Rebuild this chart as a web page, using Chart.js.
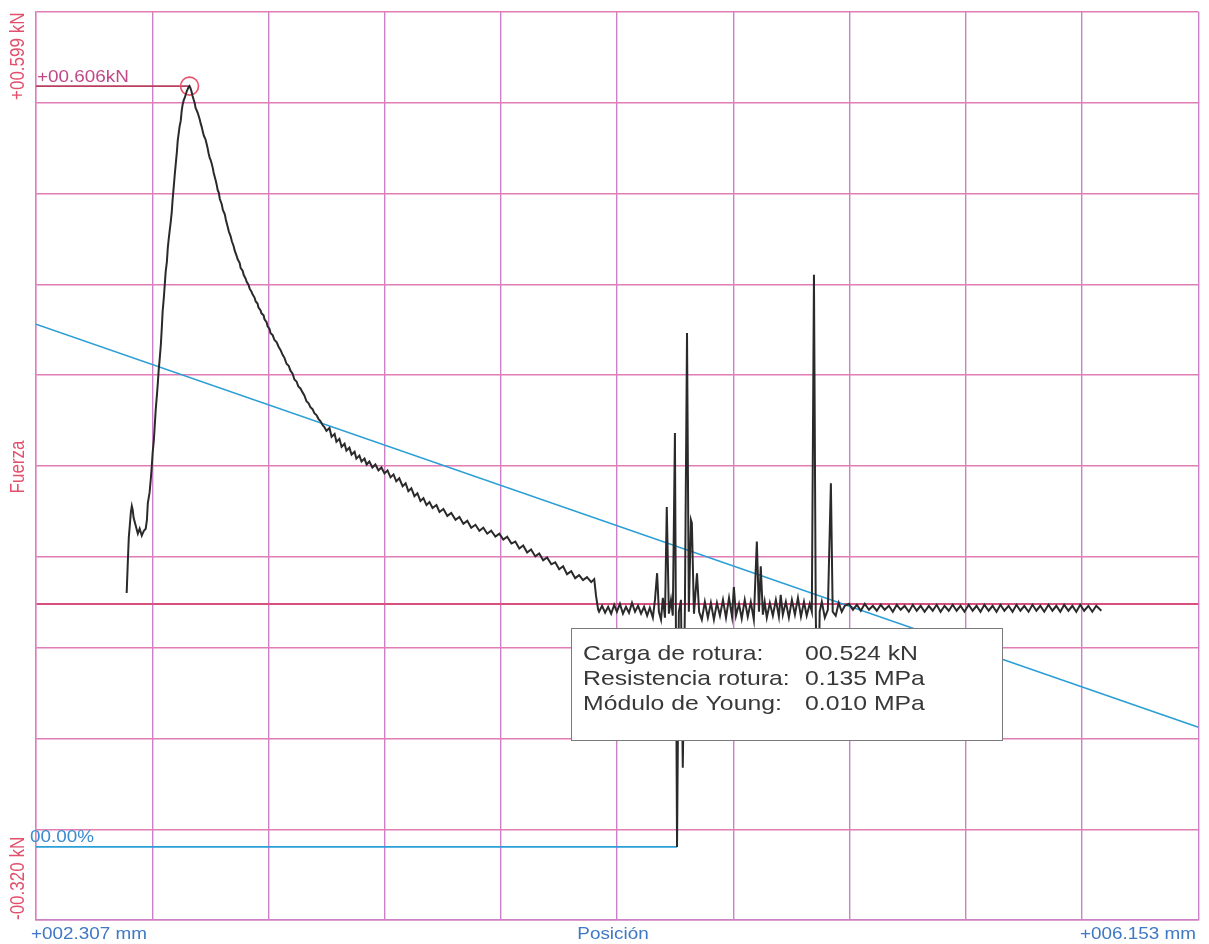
<!DOCTYPE html>
<html>
<head>
<meta charset="utf-8">
<script src="https://cdn.jsdelivr.net/npm/chart.js@4/dist/chart.umd.min.js"></script>
<style>
  html, body { margin: 0; padding: 0; background: #fff; }
  #wrap { width: 1209px; height: 944px; position: relative; }
</style>
</head>
<body>
<div id="wrap"><canvas id="ensayoChart"></canvas></div>
<script>
const posicion = [
  2.607, 2.611, 2.614, 2.617, 2.621, 2.624, 2.627, 2.630, 2.637, 2.644, 2.650, 2.657, 2.664, 2.670, 2.674, 2.677,
  2.683, 2.687, 2.690, 2.693, 2.697, 2.700, 2.703, 2.707, 2.710, 2.713, 2.716, 2.720, 2.723, 2.726, 2.730, 2.733,
  2.736, 2.740, 2.743, 2.746, 2.749, 2.753, 2.756, 2.759, 2.763, 2.766, 2.769, 2.773, 2.776, 2.779, 2.782, 2.786,
  2.789, 2.792, 2.796, 2.799, 2.802, 2.806, 2.809, 2.812, 2.815,
  2.818, 2.822, 2.825, 2.828, 2.832, 2.835, 2.838, 2.842, 2.845, 2.849, 2.852, 2.855, 2.858, 2.862, 2.865, 2.868,
  2.872, 2.875, 2.878, 2.882, 2.885, 2.888, 2.892, 2.895, 2.902, 2.905, 2.908, 2.912, 2.915, 2.922, 2.925, 2.932,
  2.935, 2.941, 2.945, 2.951, 2.955, 2.961, 2.964, 2.971, 2.974, 2.981, 2.984, 2.991, 2.994, 3.001, 3.004, 3.010,
  3.014, 3.020, 3.024, 3.030, 3.034, 3.040, 3.043, 3.050, 3.053, 3.060, 3.063, 3.070, 3.073, 3.080, 3.083, 3.090,
  3.096, 3.103, 3.110, 3.116, 3.123, 3.129, 3.136, 3.143, 3.149, 3.156, 3.162, 3.169, 3.175, 3.182, 3.189, 3.195,
  3.202, 3.209, 3.215, 3.222, 3.228, 3.235, 3.242, 3.248, 3.255, 3.261, 3.268, 3.278, 3.285, 3.295, 3.301, 3.311,
  3.318, 3.328, 3.334, 3.344, 3.351, 3.361, 3.367, 3.377, 3.384, 3.394, 3.401, 3.410, 3.420, 3.430, 3.440, 3.450,
  3.460, 3.470, 3.480, 3.490, 3.499, 3.509, 3.520, 3.530, 3.539, 3.549, 3.559, 3.569, 3.579, 3.589, 3.599, 3.609,
  3.619, 3.632, 3.642, 3.655, 3.668, 3.681, 3.695, 3.708, 3.721, 3.734, 3.747, 3.761, 3.774, 3.787, 3.800, 3.813,
  3.827, 3.840, 3.853, 3.866, 3.880, 3.893, 3.906, 3.919, 3.932, 3.945, 3.959, 3.972, 3.985, 3.998, 4.012, 4.025,
  4.038, 4.051, 4.064, 4.078, 4.091, 4.104, 4.117, 4.130, 4.144, 4.154, 4.160, 4.167,
  4.170, 4.180, 4.190, 4.200, 4.210, 4.220, 4.229, 4.239, 4.249, 4.259, 4.269, 4.279, 4.289, 4.299, 4.309, 4.319,
  4.329, 4.338, 4.348, 4.355, 4.362, 4.368, 4.375, 4.381, 4.388, 4.394, 4.401, 4.408, 4.414, 4.421, 4.424, 4.428,
  4.434, 4.441, 4.447, 4.454, 4.461, 4.467, 4.474, 4.477, 4.484, 4.494, 4.501, 4.510, 4.520, 4.530, 4.540, 4.550,
  4.560, 4.570, 4.580, 4.590, 4.600, 4.610, 4.616, 4.623, 4.633, 4.642, 4.652, 4.662, 4.672, 4.682, 4.692, 4.699,
  4.705, 4.712, 4.718, 4.725, 4.735, 4.745, 4.755, 4.765, 4.771, 4.778, 4.788, 4.798, 4.808, 4.818, 4.828, 4.838,
  4.848, 4.857, 4.867, 4.874, 4.881, 4.887, 4.894, 4.900, 4.907, 4.917, 4.927, 4.937, 4.943, 4.953, 4.963, 4.973,
  4.983, 4.997, 5.010, 5.023, 5.036, 5.049, 5.063, 5.076, 5.089, 5.102, 5.115, 5.129, 5.142, 5.155, 5.168, 5.181,
  5.195, 5.208, 5.221, 5.234, 5.247, 5.261, 5.274, 5.287, 5.300, 5.313, 5.327, 5.340, 5.353, 5.366, 5.379, 5.393,
  5.406, 5.419, 5.432, 5.445, 5.459, 5.472, 5.485, 5.498, 5.511, 5.525, 5.538, 5.551, 5.564, 5.577, 5.591, 5.604,
  5.617, 5.630, 5.643, 5.657, 5.670, 5.683, 5.696, 5.709, 5.723, 5.736, 5.749, 5.762, 5.775, 5.789, 5.802, 5.815,
  5.832
];
const fuerza = [
  0.011, 0.044, 0.067, 0.078, 0.093, 0.099, 0.095, 0.087, 0.079, 0.071, 0.076, 0.069, 0.074, 0.076, 0.085, 0.102,
  0.113, 0.127, 0.139, 0.153, 0.166, 0.181, 0.196, 0.211, 0.223, 0.237, 0.247, 0.262, 0.278, 0.296, 0.310, 0.323,
  0.336, 0.346, 0.360, 0.369, 0.377, 0.387, 0.396, 0.409, 0.423, 0.434, 0.444, 0.457, 0.469, 0.476, 0.483, 0.489,
  0.499, 0.505, 0.510, 0.512, 0.515, 0.519, 0.521, 0.523, 0.524,
  0.522, 0.518, 0.514, 0.511, 0.507, 0.502, 0.500, 0.497, 0.494, 0.490, 0.486, 0.483, 0.479, 0.474, 0.472, 0.470,
  0.465, 0.461, 0.456, 0.451, 0.449, 0.446, 0.441, 0.436, 0.428, 0.424, 0.419, 0.416, 0.410, 0.404, 0.399, 0.394,
  0.389, 0.382, 0.377, 0.372, 0.367, 0.362, 0.358, 0.352, 0.349, 0.345, 0.340, 0.337, 0.333, 0.329, 0.326, 0.323,
  0.319, 0.316, 0.313, 0.310, 0.306, 0.304, 0.300, 0.297, 0.294, 0.292, 0.288, 0.285, 0.281, 0.278, 0.274, 0.272,
  0.267, 0.265, 0.260, 0.257, 0.252, 0.249, 0.243, 0.241, 0.236, 0.233, 0.227, 0.225, 0.220, 0.218, 0.214, 0.211,
  0.205, 0.203, 0.199, 0.197, 0.193, 0.191, 0.187, 0.185, 0.181, 0.179, 0.175, 0.178, 0.169, 0.172, 0.164, 0.167,
  0.159, 0.162, 0.155, 0.158, 0.151, 0.154, 0.147, 0.150, 0.144, 0.147, 0.141, 0.144, 0.138, 0.141, 0.135, 0.138,
  0.132, 0.135, 0.128, 0.131, 0.124, 0.127, 0.119, 0.122, 0.114, 0.117, 0.109, 0.112, 0.104, 0.107, 0.100, 0.103,
  0.097, 0.100, 0.093, 0.096, 0.089, 0.092, 0.085, 0.088, 0.081, 0.084, 0.077, 0.080, 0.074, 0.077, 0.071, 0.074,
  0.068, 0.071, 0.065, 0.068, 0.061, 0.063, 0.056, 0.059, 0.052, 0.055, 0.048, 0.051, 0.044, 0.047, 0.040, 0.042,
  0.035, 0.038, 0.030, 0.033, 0.026, 0.029, 0.024, 0.027, 0.022, 0.025, 0.008, -0.006,
  -0.008, -0.002, -0.009, -0.003, -0.010, -0.001, -0.008, 0.000, -0.010, -0.003, -0.009, 0.001, -0.008, -0.002, -0.010, -0.003,
  -0.012, -0.004, -0.014, 0.004, 0.031, -0.008, -0.016, 0.006, -0.014, 0.098, -0.010, 0.004, -0.012, 0.173, -0.008, -0.246,
  -0.008, 0.004, -0.166, -0.004, 0.274, -0.008, 0.085, 0.082, -0.010, 0.031, -0.008, -0.016, 0.002, -0.014, 0.001, -0.016,
  0.001, -0.012, 0.004, -0.014, 0.006, -0.013, 0.017, -0.012, 0.000, -0.015, 0.004, -0.013, 0.002, -0.016, 0.063, -0.008,
  0.038, -0.011, 0.002, -0.014, 0.001, -0.012, 0.004, -0.013, 0.009, -0.011, 0.002, -0.014, 0.004, -0.011, 0.006, -0.013,
  0.002, -0.012, 0.000, -0.008, 0.333, -0.011, -0.131, -0.008, 0.002, -0.014, -0.006, 0.122, -0.008, -0.012, 0.001, -0.008,
  -0.002, 0.000, -0.006, -0.001, -0.007, 0.000, -0.006, -0.002, -0.007, -0.001, -0.006, -0.002, -0.008, -0.001, -0.006, -0.002,
  -0.008, -0.001, -0.007, -0.002, -0.008, -0.002, -0.007, -0.001, -0.008, -0.002, -0.007, -0.001, -0.007, -0.002, -0.008, -0.001,
  -0.007, -0.002, -0.008, -0.001, -0.007, -0.002, -0.008, -0.001, -0.007, -0.002, -0.008, -0.001, -0.007, -0.002, -0.008, -0.001,
  -0.007, -0.002, -0.008, -0.001, -0.007, -0.002, -0.008, -0.001, -0.007, -0.002, -0.008, -0.001, -0.007, -0.002, -0.008, -0.002,
  -0.007
];

// linea de ajuste (modulo de Young) y linea base de deformacion
const ajusteX = [2.307, 6.153];
const ajusteY = [0.283, -0.125];
const baseX = [2.307, 4.428];
const baseY = [-0.246, -0.246];
// marca de carga maxima
const picoX = [2.307, 2.815];
const picoY = [0.524, 0.524];

const xMin = 2.307, xMax = 6.153;
const yMin = -0.320, yMax = 0.599;
const divisiones = 10;

const xLabels = ['+002.307 mm', 'Posición', '+006.153 mm'];
const yLabels = ['+00.599 kN', 'Fuerza', '-00.320 kN'];
const picoLabel = '+00.606kN';
const baseLabel = '00.00%';
const infoLabels = ['Carga de rotura:', 'Resistencia rotura:', 'Módulo de Young:'];
const infoValues = ['00.524 kN', '0.135 MPa', '0.010 MPa'];

const toPoints = (xs, ys) => xs.map((x, i) => ({ x: x, y: ys[i] }));

const FONT = "'Liberation Sans', Arial, sans-serif";
const STRETCH = 1.18; // el original esta algo ensanchado en horizontal

function texto(ctx, str, x, y, size, color, align) {
    ctx.save();
    ctx.translate(x, y);
    ctx.scale(STRETCH, 1);
    ctx.font = size + 'px ' + FONT;
    ctx.fillStyle = color;
    ctx.textAlign = align || 'left';
    ctx.textBaseline = 'alphabetic';
    ctx.fillText(str, 0, 0);
    ctx.restore();
}

function textoVertical(ctx, str, x, y, size, color, align) {
    ctx.save();
    ctx.translate(x, y);
    ctx.rotate(-Math.PI / 2);
    ctx.scale(1, STRETCH);
    ctx.font = size + 'px ' + FONT;
    ctx.fillStyle = color;
    ctx.textAlign = align || 'left';
    ctx.textBaseline = 'middle';
    ctx.fillText(str, 0, 0);
    ctx.restore();
}

const rotulos = {
    id: 'rotulos',
    afterDraw(chart) {
        const ctx = chart.ctx;
        const red = '#e2506c', blue = '#3f78c4';

        // ejes
        textoVertical(ctx, yLabels[0], 18, 100, 17, red, 'left');
        textoVertical(ctx, yLabels[1], 18, 467, 17, red, 'center');
        textoVertical(ctx, yLabels[2], 18, 920, 17, red, 'left');
        texto(ctx, xLabels[0], 31, 939, 16, blue, 'left');
        texto(ctx, xLabels[1], 613, 939, 16, blue, 'center');
        texto(ctx, xLabels[2], 1196, 939, 16, blue, 'right');

        texto(ctx, picoLabel, 37, 82, 16, '#c04a86', 'left');
        texto(ctx, baseLabel, 30, 842, 16, '#3a8cd0', 'left');

        // cuadro de resultados
        ctx.save();
        ctx.fillStyle = '#ffffff';
        ctx.fillRect(571, 628, 431, 112);
        ctx.strokeStyle = '#7a7a7a';
        ctx.lineWidth = 1;
        ctx.strokeRect(571.5, 628.5, 431, 112);
        ctx.restore();
        infoLabels.forEach((l, i) => {
            texto(ctx, l, 583, 660 + i * 25, 21, '#383838', 'left');
            texto(ctx, infoValues[i], 805, 660 + i * 25, 21, '#383838', 'left');
        });
    }
};

const gridX = '#cc80c8';
const gridY = '#e07cb6';

new Chart(document.getElementById('ensayoChart'), {
    type: 'scatter',
    data: {
        datasets: [
            {
                label: 'Fuerza',
                data: toPoints(posicion, fuerza),
                showLine: true,
                borderColor: '#2a2a2a',
                borderWidth: 2,
                pointRadius: 0,
                tension: 0
            },
            {
                label: 'Ajuste',
                data: toPoints(ajusteX, ajusteY),
                showLine: true,
                borderColor: '#2a9ed6',
                borderWidth: 1.6,
                pointRadius: 0
            },
            {
                label: 'Base',
                data: toPoints(baseX, baseY),
                showLine: true,
                borderColor: '#2a9ed6',
                borderWidth: 1.6,
                pointRadius: 0
            },
            {
                label: 'Pico',
                data: toPoints(picoX, picoY),
                showLine: true,
                borderColor: '#b8405e',
                borderWidth: 1.8,
                pointRadius: [0, 9],
                pointBorderColor: '#e8506a',
                pointBorderWidth: 1.6,
                pointBackgroundColor: 'rgba(0,0,0,0)'
            }
        ]
    },
    options: {
        responsive: true,
        maintainAspectRatio: false,
        animation: false,
        layout: { padding: { left: 36, top: 12, right: 9, bottom: 24 } },
        plugins: { legend: { display: false }, tooltip: { enabled: false } },
        scales: {
            x: {
                type: 'linear',
                min: xMin,
                max: xMax,
                afterBuildTicks: axis => {
                    const step = (xMax - xMin) / divisiones;
                    axis.ticks = Array.from({ length: divisiones + 1 }, (_, k) => ({ value: xMin + k * step }));
                },
                ticks: { display: false },
                grid: { color: gridX, lineWidth: 1.4, drawTicks: false },
                border: { display: true, color: gridX, width: 1.4 }
            },
            y: {
                type: 'linear',
                min: yMin,
                max: yMax,
                afterBuildTicks: axis => {
                    const step = (yMax - yMin) / divisiones;
                    const t = Array.from({ length: divisiones + 1 }, (_, k) => ({ value: yMin + k * step }));
                    t.push({ value: 0 });
                    axis.ticks = t;
                },
                ticks: { display: false },
                grid: {
                    color: ctx => (ctx.tick && ctx.tick.value === 0) ? '#d8507e' : gridY,
                    lineWidth: ctx => (ctx.tick && ctx.tick.value === 0) ? 2 : 1.4,
                    drawTicks: false
                },
                border: { display: true, color: gridY, width: 1.4 }
            }
        }
    },
    plugins: [rotulos]
});
</script>
</body>
</html>
